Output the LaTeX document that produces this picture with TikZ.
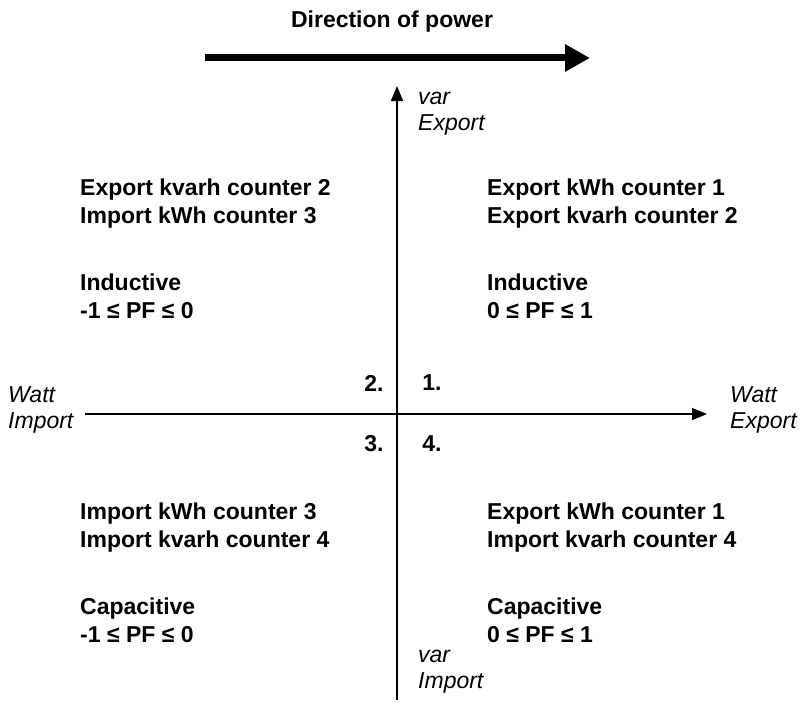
\documentclass[tikz,border=0pt]{standalone}
\usepackage{fontspec}
\setmainfont{Liberation Sans}
\usetikzlibrary{arrows.meta}
\tikzstyle{arr}=[-{Triangle[length=15pt,width=12pt]}]

\begin{document}
\begin{tikzpicture}[x=1pt,y=-1pt]
  \tikzstyle b=[font=\fontsize{23}{28}\selectfont\bfseries,align=left,anchor=west,inner sep=0pt];
  \tikzstyle it=[font=\fontsize{23}{26}\selectfont\itshape,align=left,anchor=west,inner sep=0pt];
  \tikzstyle num=[font=\fontsize{23}{26}\selectfont\bfseries,inner sep=0pt];
  \def\ox{397}
  \def\oy{414}
  \def\l{80}
  \def\r{487}

  \useasboundingbox (0,0) rectangle (805,717);

  % direction of power
  \node[b,anchor=center] (title) at (392,22) {Direction of power};
  \coordinate (ps) at (205,58);
  \coordinate (pe) at (590,58);
  \draw[line width=7pt,-{Triangle[length=25pt,width=26pt]}] (ps) -- (pe);

  % axes
  \coordinate (xl) at (85,\oy);
  \coordinate (xr) at (707,\oy);
  \coordinate (yb) at (\ox,700);
  \coordinate (yt) at (\ox,86);
  \draw[arr,line width=1.6pt] (xl) -- (xr);
  \draw[arr,line width=1.6pt] (yb) -- (yt);

  % axis labels
  \node[it] (vexp) at (418,114) {var\\Export};
  \node[it] (vimp) at (418,672) {var\\Import};
  \node[it] (wimp) at (8,410) {Watt\\Import};
  \node[it] (wexp) at (730,410) {Watt\\Export};

  % quadrants
  \node[num] (q1) at (432,383) {1.};
  \node[num] (q2) at (374,383) {2.};
  \node[num] (q3) at (374,444) {3.};
  \node[num] (q4) at (432,444) {4.};

  % counters
  \node[b] (tl) at (\l,204) {Export kvarh counter 2\\Import kWh counter 3};
  \node[b] (tr) at (\r,204) {Export kWh counter 1\\Export kvarh counter 2};
  \node[b] (bl) at (\l,528) {Import kWh counter 3\\Import kvarh counter 4};
  \node[b] (br) at (\r,528) {Export kWh counter 1\\Import kvarh counter 4};

  % power factor
  \node[b] (tlpf) at (\l,296) {Inductive\\-1 ≤ PF ≤ 0};
  \node[b] (trpf) at (\r,296) {Inductive\\0 ≤ PF ≤ 1};
  \node[b] (blpf) at (\l,620) {Capacitive\\-1 ≤ PF ≤ 0};
  \node[b] (brpf) at (\r,620) {Capacitive\\0 ≤ PF ≤ 1};
\end{tikzpicture}
\end{document}
